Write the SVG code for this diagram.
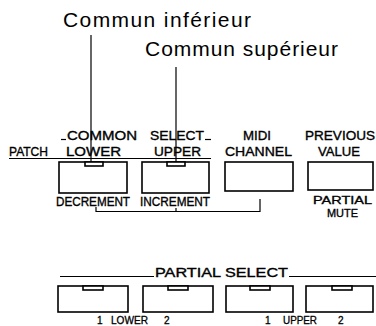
<svg xmlns="http://www.w3.org/2000/svg" width="376" height="326" viewBox="0 0 376 326">
<style>
.big{font-family:"Liberation Sans",Arial,sans-serif;font-size:21px;fill:#000}
.lbl{font-family:"Liberation Sans",Arial,sans-serif;font-size:12.5px;fill:#000;stroke:#000;stroke-width:0.35}
.sm{font-family:"Liberation Sans",Arial,sans-serif;font-size:10px;fill:#000;stroke:#000;stroke-width:0.3}
.btn{fill:#fff;stroke:#000;stroke-width:1.6}
.ln{stroke:#000;stroke-width:1.2;fill:none}
</style>
<rect width="376" height="326" fill="#fff"/>

<g id="label-commun-inferieur">
<text class="big" x="63" y="27" textLength="188" lengthAdjust="spacing">Commun inférieur</text>
</g>
<g id="label-commun-superieur">
<text class="big" x="145" y="56" textLength="193" lengthAdjust="spacing">Commun supérieur</text>
</g>

<g id="header-row1">
<text class="lbl" x="67" y="140" textLength="70" lengthAdjust="spacingAndGlyphs">COMMON</text>
<text class="lbl" x="150" y="140" textLength="54" lengthAdjust="spacingAndGlyphs">SELECT</text>
<line class="ln" x1="61" y1="139.5" x2="66" y2="139.5"/>
<line class="ln" x1="205" y1="139.5" x2="211" y2="139.5"/>
<text class="lbl" x="9" y="156" textLength="39" lengthAdjust="spacingAndGlyphs">PATCH</text>
<text class="lbl" x="66" y="156" textLength="55" lengthAdjust="spacingAndGlyphs">LOWER</text>
<text class="lbl" x="154" y="156" textLength="47" lengthAdjust="spacingAndGlyphs">UPPER</text>
<line class="ln" x1="9" y1="158.5" x2="211" y2="158.5"/>
<text class="lbl" x="243" y="140" textLength="28" lengthAdjust="spacingAndGlyphs">MIDI</text>
<text class="lbl" x="225" y="156" textLength="67" lengthAdjust="spacingAndGlyphs">CHANNEL</text>
<text class="lbl" x="305" y="140" textLength="70" lengthAdjust="spacingAndGlyphs">PREVIOUS</text>
<text class="lbl" x="318" y="156" textLength="42" lengthAdjust="spacingAndGlyphs">VALUE</text>
</g>

<g id="btn-lower">
<rect class="btn" x="59" y="162" width="68" height="31"/>
<rect class="btn" x="85" y="162" width="18" height="4"/>
</g>
<g id="btn-upper">
<rect class="btn" x="142" y="162" width="67" height="31"/>
<rect class="btn" x="167" y="162" width="18" height="4"/>
</g>
<g id="btn-midi-channel">
<rect class="btn" x="225" y="162" width="68" height="29"/>
</g>
<g id="btn-previous-value">
<rect class="btn" x="308" y="162" width="65" height="28"/>
</g>

<g id="labels-row1-below">
<text class="lbl" x="56" y="206" textLength="74" lengthAdjust="spacingAndGlyphs">DECREMENT</text>
<text class="lbl" x="140" y="206" textLength="70" lengthAdjust="spacingAndGlyphs">INCREMENT</text>
<text class="lbl" x="313" y="204" textLength="59" lengthAdjust="spacingAndGlyphs" style="font-size:11.5px">PARTIAL</text>
<text class="lbl" x="327" y="217" textLength="31" lengthAdjust="spacingAndGlyphs" style="font-size:11.5px">MUTE</text>
</g>

<g id="header-partial-select">
<line class="ln" x1="60" y1="276.5" x2="154" y2="276.5"/>
<text class="lbl" x="155" y="277" textLength="133" lengthAdjust="spacingAndGlyphs">PARTIAL SELECT</text>
<line class="ln" x1="289" y1="276.5" x2="376" y2="276.5"/>
</g>

<g id="btn-partial-lower-1">
<rect class="btn" x="58" y="286" width="70" height="26"/>
<rect class="btn" x="83" y="286" width="20" height="4"/>
</g>
<g id="btn-partial-lower-2">
<rect class="btn" x="143" y="286" width="70" height="26"/>
<rect class="btn" x="168" y="286" width="20" height="4"/>
</g>
<g id="btn-partial-upper-1">
<rect class="btn" x="226" y="286" width="67" height="26"/>
<rect class="btn" x="250" y="286" width="20" height="4"/>
</g>
<g id="btn-partial-upper-2">
<rect class="btn" x="306" y="286" width="67" height="26"/>
<rect class="btn" x="332" y="286" width="20" height="4"/>
</g>

<g id="labels-row2-below">
<text class="sm" x="97" y="324">1</text>
<text class="sm" x="111" y="324" textLength="37" lengthAdjust="spacingAndGlyphs">LOWER</text>
<text class="sm" x="164" y="324">2</text>
<text class="sm" x="265" y="324">1</text>
<text class="sm" x="283" y="324" textLength="34" lengthAdjust="spacingAndGlyphs">UPPER</text>
<text class="sm" x="338" y="324">2</text>
</g>

<g id="connectors">
<line class="ln" x1="91" y1="35" x2="91" y2="162"/>
<line class="ln" x1="176" y1="67" x2="176" y2="162"/>
<path class="ln" d="M96,207 V211.5 H260 V199"/>
<line class="ln" x1="176" y1="208" x2="176" y2="211.5"/>
</g>
</svg>
